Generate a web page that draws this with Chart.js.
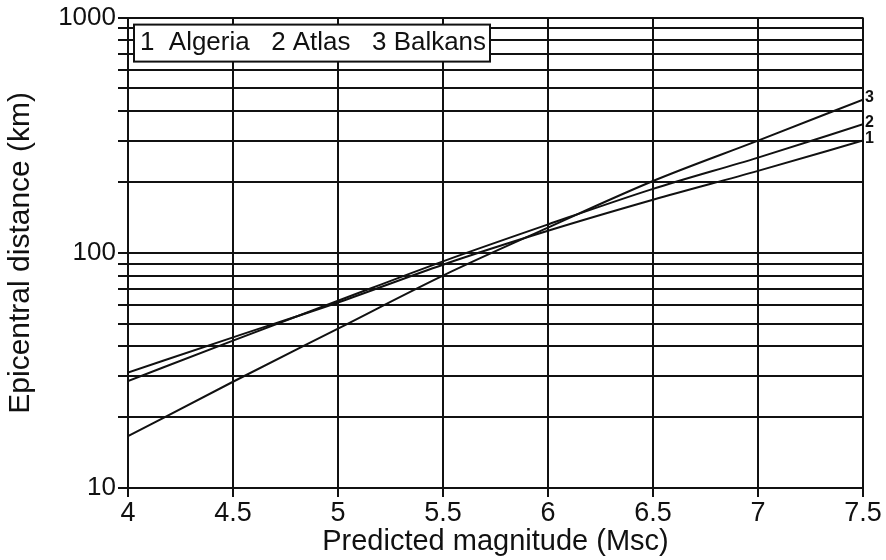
<!DOCTYPE html>
<html>
<head>
<meta charset="utf-8">
<script src="https://cdn.jsdelivr.net/npm/chart.js@4.4.1/dist/chart.umd.min.js"></script>
<style>
  html, body { margin: 0; padding: 0; background: #fff; }
  #wrap { width: 886px; height: 560px; }
</style>
</head>
<body>
<div id="wrap"><canvas id="c" width="886" height="560"></canvas></div>
<script>
// Predicted magnitude (Msc) at which each curve is sampled
const magnitudes = [4, 4.5, 5, 5.5, 6, 6.5, 7, 7.5];

// Epicentral distance (km) for each region
const algeria = [31, 43.7, 61.5, 89, 124, 168, 223, 300];
const atlas   = [28.5, 42.3, 62.5, 92, 132, 187, 254, 352];
const balkans = [16.6, 28.3, 47.6, 80, 128, 202, 300, 448];

const seriesNames = ['Algeria', 'Atlas', 'Balkans'];
const seriesTags  = ['1', '2', '3'];

// Axis ticks
const xTickValues = [4, 4.5, 5, 5.5, 6, 6.5, 7, 7.5];
const yLabelValues = [10, 100, 1000];

const FONT = '"Liberation Sans", Arial, Helvetica, sans-serif';
const INK = '#111';

// every 1..9 x 10^n between 10 and 1000 gets a grid line
const yGridValues = [];
for (let d = 10; d < 1000; d *= 10) {
  for (let k = 1; k < 10; k++) yGridValues.push(k * d);
}
yGridValues.push(1000);

const seriesData = [algeria, atlas, balkans];

// Boxed key in the upper left and the curve numbers at the right edge
const annotations = {
  id: 'annotations',
  afterDraw(chart) {
    const ctx = chart.ctx;
    const area = chart.chartArea;
    const xs = chart.scales.x, ys = chart.scales.y;
    ctx.save();

    // key box
    const bx = area.left + 6, by = area.top + 7, bw = 356, bh = 37;
    ctx.fillStyle = '#fff';
    ctx.fillRect(bx, by, bw, bh);
    ctx.strokeStyle = INK;
    ctx.lineWidth = 2;
    ctx.strokeRect(bx, by, bw, bh);

    const keyText = seriesTags.map((t, i) => t + (i === 0 ? '  ' : ' ') + seriesNames[i]).join('   ');
    ctx.fillStyle = INK;
    ctx.font = '26px ' + FONT;
    ctx.textBaseline = 'alphabetic';
    ctx.textAlign = 'left';
    ctx.fillText(keyText, bx + 6, by + 25, bw - 10);

    // curve numbers at the line ends
    ctx.font = 'bold 16px ' + FONT;
    ctx.textBaseline = 'middle';
    seriesData.forEach((vals, i) => {
      const last = vals.length - 1;
      const px = xs.getPixelForValue(magnitudes[last]);
      const py = ys.getPixelForValue(vals[last]);
      ctx.fillText(seriesTags[i], px + 2, py - 2);
    });
    ctx.restore();
  }
};

const datasets = seriesData.map((vals, i) => ({
  label: seriesNames[i],
  data: magnitudes.map((m, j) => ({ x: m, y: vals[j] })),
  borderColor: INK,
  borderWidth: 2,
  pointRadius: 0,
  fill: false,
  cubicInterpolationMode: 'monotone'
}));

new Chart(document.getElementById('c'), {
  type: 'line',
  data: { datasets },
  options: {
    responsive: false,
    animation: false,
    layout: { padding: { left: 3, top: 16, right: 23, bottom: 0 } },
    plugins: {
      legend: { display: false },
      tooltip: { enabled: false }
    },
    scales: {
      x: {
        type: 'linear',
        min: 4,
        max: 7.5,
        afterBuildTicks(scale) { scale.ticks = xTickValues.map(v => ({ value: v })); },
        afterFit(scale) { scale.height = 72; },
        ticks: {
          color: INK,
          padding: 0,
          font: { family: FONT, size: 27 },
          callback: v => String(v)
        },
        grid: { color: INK, lineWidth: 2, tickLength: 9, drawTicks: true },
        border: { color: INK, width: 2 },
        title: {
          display: true,
          text: 'Predicted magnitude (Msc)',
          color: INK,
          font: { family: FONT, size: 29 },
          padding: { top: 0, bottom: 1 }
        }
      },
      y: {
        type: 'logarithmic',
        min: 10,
        max: 1000,
        afterBuildTicks(scale) { scale.ticks = yGridValues.map(v => ({ value: v, major: yLabelValues.includes(v) })); },
        afterFit(scale) { scale.width = 125; },
        ticks: {
          color: INK,
          autoSkip: false,
          padding: 2,
          font: { family: FONT, size: 26 },
          callback: v => (yLabelValues.includes(v) ? String(v) : '')
        },
        grid: { color: INK, lineWidth: 2, tickLength: 10, drawTicks: true },
        border: { color: INK, width: 2 },
        title: {
          display: true,
          text: 'Epicentral distance (km)',
          color: INK,
          font: { family: FONT, size: 30 },
          padding: { top: 0, bottom: 0 }
        }
      }
    }
  },
  plugins: [annotations]
});
</script>
</body>
</html>
